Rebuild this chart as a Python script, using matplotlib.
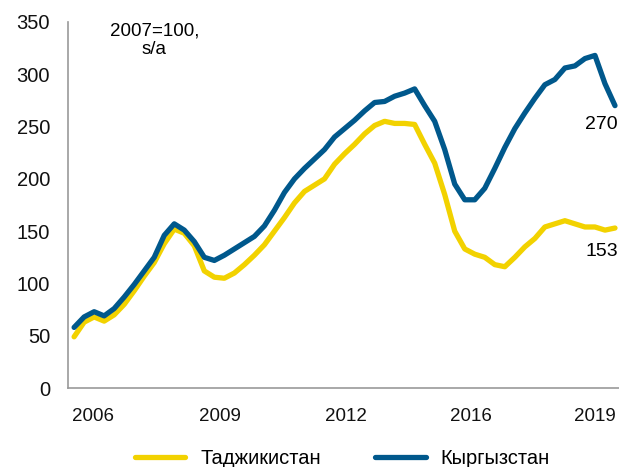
import matplotlib
matplotlib.use("Agg")
import matplotlib.pyplot as plt

# quarterly index, 2006Q1 .. 2019Q3, 2007=100, s/a
tajikistan = [49, 63, 68, 64, 70, 80, 93, 107, 120, 138,
              152, 148, 136, 112, 106, 105, 110, 118, 127, 137,
              150, 163, 177, 188, 194, 200, 214, 224, 233, 243,
              251, 255, 253, 253, 252, 233, 215, 185, 150, 133,
              128, 125, 118, 116, 125, 135, 143, 154, 157, 160,
              157, 154, 154, 151, 153]
kyrgyzstan = [58, 68, 73, 69, 76, 87, 99, 112, 125, 146,
              157, 151, 140, 125, 122, 127, 133, 139, 145, 155,
              170, 187, 200, 210, 219, 228, 240, 248, 256, 265,
              273, 274, 279, 282, 286, 270, 255, 228, 195, 180,
              180, 191, 210, 230, 248, 263, 277, 290, 295, 306,
              308, 315, 318, 291, 270]
year_labels = ["2006", "2009", "2012", "2016", "2019"]
year_pos = [1.85, 14.6, 27.1, 39.6, 52.0]

yellow = "#F2D200"
blue = "#00588C"

plt.rcParams["font.family"] = ["Liberation Sans", "DejaVu Sans"]

fig = plt.figure(figsize=(6.19, 4.67), dpi=100)
ax = fig.add_axes([0.110, 0.169, 0.890, 0.784])

x = list(range(len(kyrgyzstan)))
ax.plot(x, tajikistan, color=yellow, lw=3.8, label="Таджикистан", solid_capstyle="round")
ax.plot(x, kyrgyzstan, color=blue, lw=3.8, label="Кыргызстан", solid_capstyle="round")

ax.set_xlim(-0.6, 54.4)
ax.set_ylim(0, 350)
ax.set_yticks(range(0, 351, 50))
ax.set_xticks(year_pos)
ax.set_xticklabels(year_labels)
ax.tick_params(axis="both", length=0, colors="#111111")
ax.tick_params(axis="y", pad=13, labelsize=14.5)
ax.tick_params(axis="x", pad=14.5, labelsize=13.5)
for s in ["top", "right"]:
    ax.spines[s].set_visible(False)
for s in ["left", "bottom"]:
    ax.spines[s].set_color("#999999")
    ax.spines[s].set_linewidth(1.2)

ax.text(8.0, 349, "2007=100,\ns/a", ha="center", va="top", fontsize=13.5, linespacing=1.1)
ax.text(54.3, 252, "270", ha="right", va="center", fontsize=14)
ax.text(54.3, 130.5, "153", ha="right", va="center", fontsize=14)

fig.legend(loc="center", bbox_to_anchor=(0.553, 0.019), ncol=2, frameon=False,
           fontsize=14.5, handlelength=2.5, columnspacing=2.7, handletextpad=0.75)

fig.savefig("out.png", dpi=100)
